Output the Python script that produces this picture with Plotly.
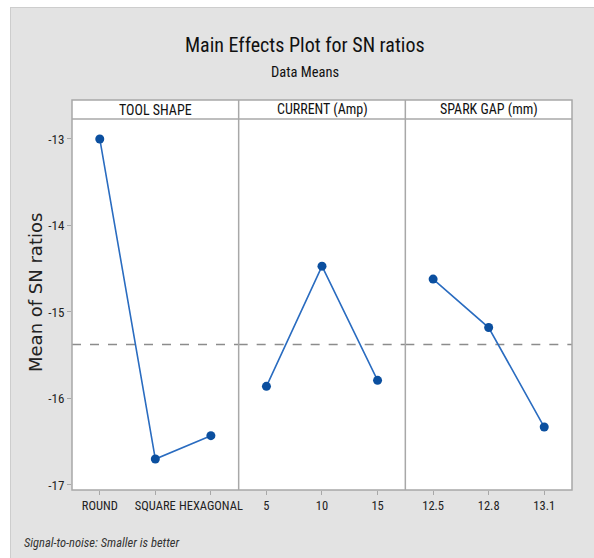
import plotly.graph_objects as go

# ---- data ----
panel_titles = ["TOOL SHAPE", "CURRENT (Amp)", "SPARK GAP (mm)"]
tool_levels = ["ROUND", "SQUARE", "HEXAGONAL"]
tool_means = [-13.00, -16.70, -16.43]
current_levels = ["5", "10", "15"]
current_means = [-15.86, -14.47, -15.79]
gap_levels = ["12.5", "12.8", "13.1"]
gap_means = [-14.62, -15.18, -16.33]
y_ticks = [-13, -14, -15, -16, -17]

levels = [tool_levels, current_levels, gap_levels]
means = [tool_means, current_means, gap_means]
overall_mean = sum(tool_means + current_means + gap_means) / 9

W, H = 594, 558
PL, PR, PT, PB = 72, 572, 100, 490
ML, MR, MT, MB = PL, W - PR, PT, H - PB
HEADER_PX = 19
ytop = 1 - HEADER_PX / (PB - PT)

NARROW = "Liberation Sans Narrow, Arial Narrow, Roboto Condensed, Liberation Sans, sans-serif"
LINE_C = "#2a6cc0"
MARK_C = "#0b4f9f"
BORDER = "#a8a8a8"

def px_x(px):
    return (px - PL) / (PR - PL)

def px_y(py):
    return (PB - py) / (PB - PT)

fig = go.Figure()
doms = [[0, 1/3], [1/3, 2/3], [2/3, 1]]
for i in range(3):
    sfx = "" if i == 0 else str(i + 1)
    fig.add_trace(go.Scatter(
        x=levels[i], y=means[i], mode="lines+markers",
        line=dict(color=LINE_C, width=1.6),
        marker=dict(color=MARK_C, size=9, symbol="circle"),
        xaxis="x" + sfx, yaxis="y" + sfx, showlegend=False,
        hoverinfo="x+y",
    ))
    fig.layout["xaxis" + sfx] = dict(
        domain=doms[i], type="category", range=[-0.5, 2.5],
        anchor="y" + sfx, showgrid=False, zeroline=False, showline=False,
        ticks="outside", ticklen=4, tickcolor=BORDER, tickwidth=1,
        tickangle=0, automargin=False,
        tickfont=dict(family=NARROW, size=12.5, color="#222"),
    )
    yax = dict(
        domain=[0, ytop], range=[-17.058, -12.769],
        anchor="x" + sfx, showgrid=False, zeroline=False, showline=False,
        automargin=False,
    )
    if i == 0:
        yax.update(
            tickvals=y_ticks, ticktext=[str(v) for v in y_ticks],
            ticks="outside", ticklen=4, tickcolor=BORDER, tickwidth=1,
            tickfont=dict(family=NARROW, size=13, color="#222"),
        )
    else:
        yax.update(matches="y", showticklabels=False, ticks="")
    fig.layout["yaxis" + sfx] = yax

shapes = []
annotations = []
# header background
shapes.append(dict(type="rect", xref="paper", yref="paper", x0=0, x1=1, y0=ytop, y1=1,
                   fillcolor="white", line=dict(width=0), layer="below"))
# overall mean reference line
for i in range(3):
    sfx = "" if i == 0 else str(i + 1)
    shapes.append(dict(type="line", xref="x%s domain" % sfx, yref="y" + sfx,
                       x0=0, x1=1, y0=overall_mean, y1=overall_mean,
                       line=dict(color="#8c8c8c", width=1.5, dash="dash"), layer="below"))
# frame
shapes.append(dict(type="rect", xref="paper", yref="paper", x0=0, x1=1, y0=0, y1=1,
                   line=dict(color=BORDER, width=1.5), layer="above"))
shapes.append(dict(type="line", xref="paper", yref="paper", x0=0, x1=1, y0=ytop, y1=ytop,
                   line=dict(color=BORDER, width=1.5), layer="above"))
for d in [1/3, 2/3]:
    shapes.append(dict(type="line", xref="paper", yref="paper", x0=d, x1=d, y0=0, y1=1,
                       line=dict(color=BORDER, width=1.5), layer="above"))
# header labels
for i in range(3):
    annotations.append(dict(text=panel_titles[i], xref="paper", yref="paper",
                            x=(doms[i][0] + doms[i][1]) / 2, y=(ytop + 1) / 2,
                            xanchor="center", yanchor="middle", showarrow=False,
                            font=dict(family=NARROW, size=14, color="#111")))
# white page strips around the grey panel
shapes.append(dict(type="rect", xref="paper", yref="paper",
                   x0=px_x(0), x1=px_x(10), y0=px_y(H), y1=px_y(0),
                   fillcolor="white", line=dict(width=0), layer="below"))
shapes.append(dict(type="rect", xref="paper", yref="paper",
                   x0=px_x(0), x1=px_x(W), y0=px_y(7), y1=px_y(0),
                   fillcolor="white", line=dict(width=0), layer="below"))
shapes.append(dict(type="line", xref="paper", yref="paper",
                   x0=px_x(10.5), x1=px_x(10.5), y0=px_y(H), y1=px_y(7),
                   line=dict(color="#cdcdcd", width=1)))
shapes.append(dict(type="line", xref="paper", yref="paper",
                   x0=px_x(10), x1=px_x(W), y0=px_y(7.5), y1=px_y(7.5),
                   line=dict(color="#cdcdcd", width=1)))

# y axis title
annotations.append(dict(text="Mean of SN ratios", xref="paper", yref="paper",
                        x=px_x(35), y=px_y(293), xanchor="center", yanchor="middle",
                        textangle=-90, showarrow=False,
                        font=dict(family="DejaVu Sans, sans-serif", size=18, color="#222")))
annotations.append(dict(text="Main Effects Plot for SN ratios", xref="paper", yref="paper",
                        x=px_x(305), y=px_y(45), xanchor="center", yanchor="middle",
                        showarrow=False, font=dict(family=NARROW, size=20, color="#111")))
annotations.append(dict(text="Data Means", xref="paper", yref="paper",
                        x=px_x(305), y=px_y(72), xanchor="center", yanchor="middle",
                        showarrow=False, font=dict(family=NARROW, size=14.5, color="#111")))
annotations.append(dict(text="<i>Signal-to-noise: Smaller is better</i>", xref="paper", yref="paper",
                        x=px_x(22), y=px_y(542), xanchor="left", yanchor="middle",
                        showarrow=False, font=dict(family=NARROW, size=12.5, color="#333")))

fig.update_layout(
    width=W, height=H, autosize=False,
    margin=dict(l=ML, r=MR, t=MT, b=MB, autoexpand=False),
    paper_bgcolor="#e3e3e3", plot_bgcolor="white",
    shapes=shapes, annotations=annotations,
)

fig.write_html(
    "out.html",
    config={"displayModeBar": False},
    post_script="document.body.style.margin='0px';document.body.style.overflow='hidden';",
)
